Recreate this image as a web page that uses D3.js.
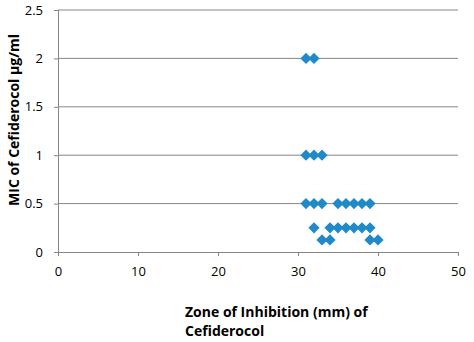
<!DOCTYPE html>
<html>
<head>
<meta charset="utf-8">
<script src="https://cdn.jsdelivr.net/npm/d3@7"></script>
<style>
  body { margin: 0; background: #fff; }
  text { font-family: "Open Sans", "Liberation Sans", sans-serif; }
</style>
</head>
<body>
<svg id="chart"></svg>
<script>
const width = 474;
const height = 342;

// zone of inhibition (mm) and MIC (µg/ml) for each isolate
const zoneMm = [31, 32, 31, 32, 33, 31, 32, 33, 35, 36, 37, 38, 39,
  32, 34, 35, 36, 37, 38, 39, 33, 34, 39, 40];
const micValues = [2, 2, 1, 1, 1, 0.5, 0.5, 0.5, 0.5, 0.5, 0.5, 0.5, 0.5,
  0.25, 0.25, 0.25, 0.25, 0.25, 0.25, 0.25, 0.125, 0.125, 0.125, 0.125];
const xTicks = [0, 10, 20, 30, 40, 50];
const yTicks = [0, 0.5, 1, 1.5, 2, 2.5];

const margin = { top: 10, right: 16, bottom: 90, left: 58 };

const svg = d3.select("#chart")
  .attr("width", width)
  .attr("height", height);

const x = d3.scaleLinear().domain([0, 50]).range([margin.left, width - margin.right]);
const y = d3.scaleLinear().domain([0, 2.5]).range([height - margin.bottom, margin.top]);

// gridlines
svg.append("g")
  .selectAll("line")
  .data(yTicks.slice(1))
  .enter().append("line")
  .attr("x1", x(0))
  .attr("x2", x(50))
  .attr("y1", d => y(d))
  .attr("y2", d => y(d))
  .attr("stroke", "#868686")
  .attr("stroke-width", 1);

const xAxis = svg.append("g")
  .attr("transform", `translate(0,${y(0)})`)
  .call(d3.axisBottom(x).tickValues(xTicks).tickSize(4).tickPadding(11));

const yAxis = svg.append("g")
  .attr("transform", `translate(${x(0)},0)`)
  .call(d3.axisLeft(y).tickValues(yTicks).tickFormat(d3.format("")).tickSize(4).tickPadding(11));

[xAxis, yAxis].forEach(a => {
  a.select(".domain").attr("stroke", "#868686");
  a.selectAll(".tick line").attr("stroke", "#868686");
  a.selectAll(".tick text").attr("font-size", 13).attr("fill", "#000")
    .style("font-family", "'Open Sans', sans-serif");
});

// points
const diamond = d3.symbol().type(d3.symbolDiamond2).size(80);
svg.append("g")
  .selectAll("path")
  .data(zoneMm.map((z, i) => ({ z: z, mic: micValues[i] })))
  .enter().append("path")
  .attr("d", diamond)
  .attr("transform", d => `translate(${x(d.z)},${y(d.mic)})`)
  .attr("fill", "#1f89c9");

// axis titles
svg.append("text")
  .attr("transform", "translate(19,120) rotate(-90)")
  .attr("text-anchor", "middle")
  .attr("font-size", 14)
  .attr("font-weight", "bold")
  .text("MIC of Cefiderocol µg/ml");

const xTitle = svg.append("text")
  .attr("x", 185)
  .attr("y", 317)
  .attr("font-size", 14)
  .attr("font-weight", "bold");
xTitle.append("tspan").attr("x", 185).text("Zone of Inhibition (mm) of");
xTitle.append("tspan").attr("x", 185).attr("dy", 19).text("Cefiderocol");
</script>
</body>
</html>
